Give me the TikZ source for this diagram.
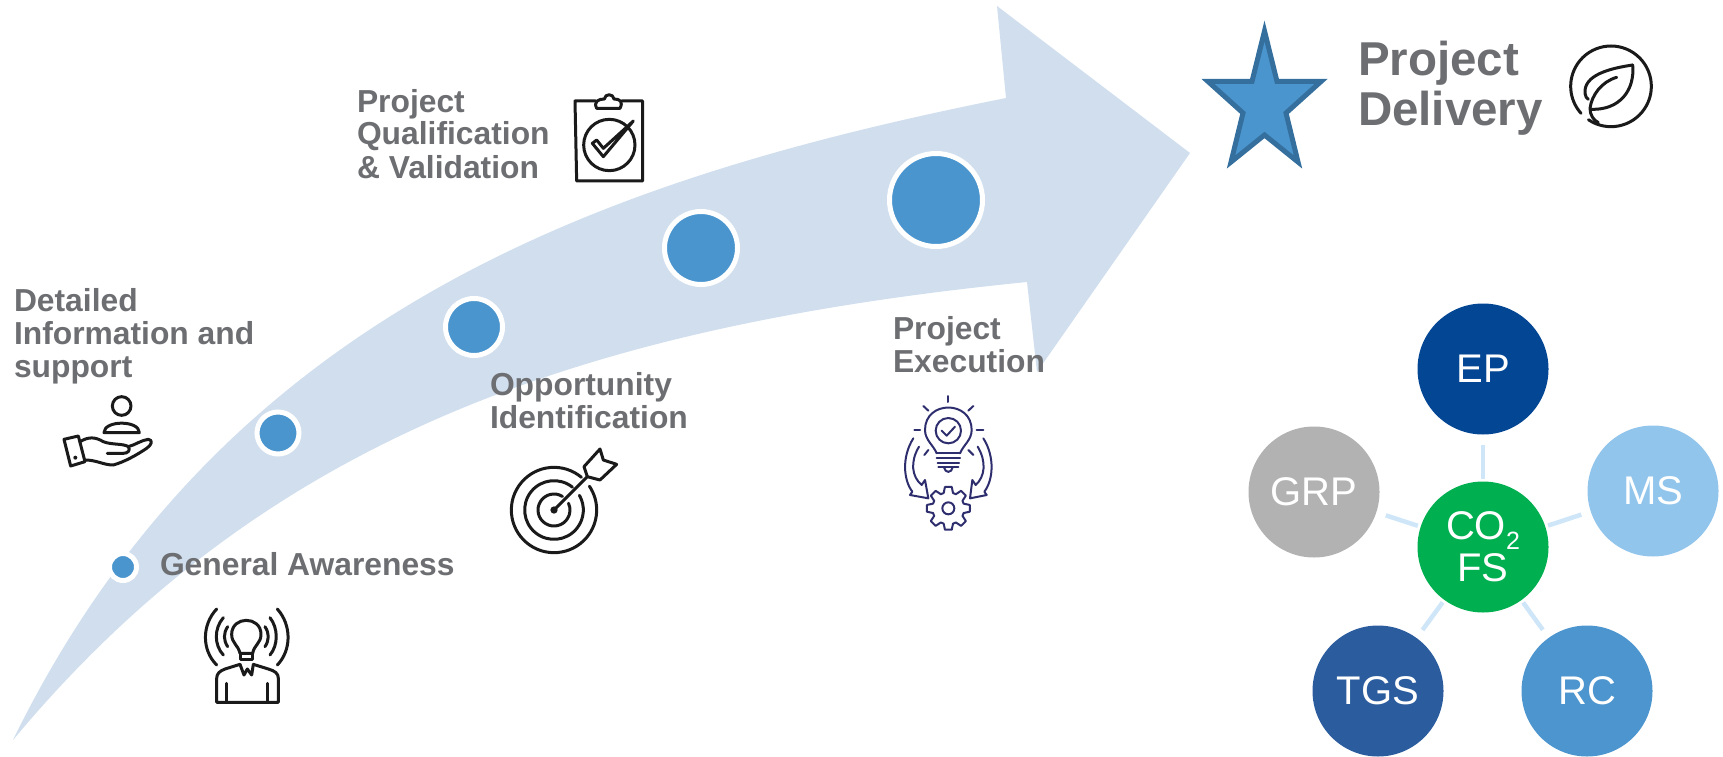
\documentclass[tikz,border=0pt]{standalone}
\usepackage{fontspec}
\setmainfont{Liberation Sans}
\definecolor{arrowc}{HTML}{D0DEEE}
\definecolor{dotc}{HTML}{4A95CE}
\definecolor{starl}{HTML}{356F9E}
\definecolor{labelc}{HTML}{6D6E71}
\definecolor{linkc}{HTML}{CFE6F9}
\definecolor{epc}{HTML}{034694}
\definecolor{grpc}{HTML}{B2B2B2}
\definecolor{coc}{HTML}{00B050}
\definecolor{tgsc}{HTML}{2B5C9E}
\definecolor{rcc}{HTML}{4D95CE}
\definecolor{msc}{HTML}{92C5EC}
\definecolor{navyc}{HTML}{2E2E6E}
\definecolor{iconc}{HTML}{1A1A1A}
\tikzset{
  dot/.style={circle,fill=dotc,draw=white,line width=5pt,inner sep=0pt,outer sep=0pt,minimum size=#1},
  lbl/.style={anchor=base west,align=left,inner sep=0pt,outer sep=0pt,text=labelc,font=\fontsize{31.8}{33}\selectfont\bfseries},
  bigl/.style={anchor=base west,align=left,inner sep=0pt,outer sep=0pt,text=labelc,font=\fontsize{47.5}{50}\selectfont\bfseries},
  disc/.style={circle,inner sep=0pt,outer sep=0pt,minimum size=131pt,text=white,fill=#1,font=\fontsize{40}{42}\selectfont},
  link/.style={draw=linkc,line width=4.5pt,shorten <=3pt,shorten >=10pt},
  iconz/.style 2 args={shift={(#1,#2)},x=0.33333pt,y=-0.33333pt,line cap=round,line join=round},
  ic/.style={draw=iconc,line width=3pt},
  nv/.style={draw=navyc,line width=2pt}
}
\begin{document}
\begin{tikzpicture}[x=1pt,y=-1pt]
\useasboundingbox (0,0) rectangle (1723,757);
% main arrow
\fill[arrowc] (13,740) .. controls (223,310) and (606,178) .. (1006,98)
  -- (997,6) -- (1190,153) -- (1037,372) -- (1027,282)
  .. controls (577,327) and (263,440) .. (13,740) -- cycle;
% dots
\node[dot=22pt+5pt] (d1) at (123,567) {};
\node[dot=37pt+5pt] (d2) at (278,433) {};
\node[dot=52pt+5pt] (d3) at (474,327) {};
\node[dot=68pt+5pt] (d4) at (701,248) {};
\node[dot=88pt+5pt] (d5) at (936,200) {};
% star
\draw[fill=dotc,draw=starl,line width=5pt,miter limit=10] (1264.5,31) -- (1277,81.5) -- (1321,81.5) -- (1286,113) -- (1298,162) -- (1264.5,135) -- (1231,162) -- (1243,113) -- (1208,81.5) -- (1252,81.5) -- cycle;
% labels
\node[lbl] (general) at (160,575) {General Awareness};
\node[lbl] (detailed) at (14,377) {Detailed\\Information and\\support};
\node[lbl] (qual) at (357,178) {Project\\Qualification\\\& Validation};
\node[lbl] (opp) at (490,428) {Opportunity\\Identification};
\node[lbl] (exec) at (893,372) {Project\\Execution};
\node[bigl] (deliv) at (1358,125) {Project\\Delivery};
% discs
\node[disc=epc] (ep) at (1483,369) {EP};
\node[disc=grpc] (grp) at (1314,492) {GRP};
\node[disc=tgsc] (tgs) at (1378,691) {TGS};
\node[disc=rcc] (rc) at (1587,691) {RC};
\node[disc=msc] (ms) at (1653,491) {MS};
\node[disc=coc,align=center] (co) at (1483,547) {CO{\fontsize{25}{25}\selectfont\raisebox{-10pt}{2}}\\FS};
\foreach \t in {ep,grp,tgs,rc,ms} \draw[link] (co) -- (\t);
% icon: bulb person
\begin{scope}[iconz={190}{595}]
\draw[ic] (80,42) .. controls (35,90) and (35,165) .. (80,210);
\draw[ic] (100,68) .. controls (72,100) and (72,150) .. (100,180);
\draw[ic] (113,95) .. controls (100,115) and (100,135) .. (113,155);
\draw[ic] (262,42) .. controls (305,90) and (305,165) .. (262,210);
\draw[ic] (240,68) .. controls (265,100) and (265,150) .. (240,180);
\draw[ic] (225,95) .. controls (238,115) and (238,135) .. (225,155);
\draw[ic] (150,175) .. controls (145,150) and (125,145) .. (125,118) .. controls (125,62) and (213,62) .. (213,118) .. controls (213,145) and (192,150) .. (188,175) -- cycle;
\draw[ic] (150,175) -- (150,192) -- (188,192) -- (188,175);
\draw[ic] (150,208) -- (105,222) .. controls (90,228) and (80,235) .. (80,250) -- (80,322) -- (265,322) -- (265,250) .. controls (265,235) and (255,228) .. (235,222) -- (190,208);
\draw[ic] (150,208) -- (162,240) -- (172,222) -- (185,240) -- (190,208);
\draw[ic] (108,265) -- (108,320);
\draw[ic] (232,265) -- (232,320);
\end{scope}
% icon: hand
\begin{scope}[iconz={0}{340}]
\draw[ic] (365,198) circle[radius=28];
\draw[ic] (312,278) .. controls (312,240) and (418,240) .. (418,278) -- cycle;
\draw[ic] (192,298) -- (235,288) -- (255,365) -- (212,378) -- cycle;
\fill[iconc] (226,353) circle[radius=6];
\draw[ic] (240,305) .. controls (265,290) and (285,290) .. (310,305) .. controls (335,315) and (370,310) .. (385,320) .. controls (405,315) and (425,300) .. (445,298) .. controls (460,300) and (455,315) .. (440,325) .. controls (410,345) and (375,365) .. (340,375) .. controls (310,375) and (290,360) .. (255,360);
\draw[ic] (322,340) -- (370,340) .. controls (385,340) and (392,330) .. (385,320);
\end{scope}
% icon: target
\begin{scope}[iconz={500}{435}]
\draw[ic] (162,225) ++(-50:128) arc[start angle=-50,end angle=-394,radius=128];
\draw[ic] (162,225) ++(-51:88) arc[start angle=-51,end angle=-390,radius=88];
\draw[ic] (162,225) ++(-58:48) arc[start angle=-58,end angle=-385,radius=48];
\fill[iconc] (162,225) circle[radius=11];
\draw[ic] (162,225) -- (262,125);
\draw[ic] (252,95) -- (300,42) -- (310,75) -- (350,88) -- (300,135) -- (262,125) -- cycle;
\end{scope}
% icon: clipboard
\begin{scope}[iconz={565}{85}]
\draw[ic] (92,48) -- (30,48) -- (35,288) -- (233,288) -- (233,48) -- (170,48);
\draw[ic] (95,70) .. controls (85,50) and (100,42) .. (118,42) .. controls (120,25) and (145,25) .. (147,42) .. controls (165,42) and (175,50) .. (165,70) -- cycle;
\draw[ic] (133,180) circle[radius=77];
\draw[ic] (82,175) -- (115,215) -- (205,108) -- (115,190) -- (95,165) -- cycle;
\end{scope}
% icon: execution
\begin{scope}[iconz={895}{390}]
\draw[nv] (160,18) -- (160,36);
\draw[nv] (85,48) -- (100,62);
\draw[nv] (235,48) -- (220,62);
\draw[nv] (58,120) -- (75,120);
\draw[nv] (245,120) -- (265,120);
\draw[nv] (88,195) -- (100,180);
\draw[nv] (235,195) -- (220,180);
\draw[nv] (125,190) .. controls (115,165) and (90,150) .. (90,120) .. controls (90,30) and (230,30) .. (230,120) .. controls (230,150) and (205,165) .. (195,190);
\draw[nv] (160,122) circle[radius=38];
\draw[nv] (140,122) -- (155,137) -- (180,110);
\draw[nv] (125,190) -- (195,190);
\draw[nv] (125,205) -- (195,205);
\draw[nv] (128,220) -- (192,220);
\draw[nv] (130,232) -- (190,232);
\draw[nv] (147,232) .. controls (150,250) and (170,250) .. (173,232);
\draw[nv] (55,145) .. controls (20,200) and (25,270) .. (52,305) -- (45,315) -- (100,325) -- (90,270) -- (80,285) .. controls (50,260) and (45,215) .. (72,170);
\draw[nv] (265,145) .. controls (300,200) and (295,270) .. (268,305) -- (275,315) -- (225,325) -- (232,270) -- (242,285) .. controls (270,260) and (275,215) .. (248,170);
\begin{scope}[shift={(160,355)}]
\draw[nv] (0:65) \foreach \a in {0,45,...,315} { -- ({\a+9}:65) -- ({\a+17}:48) -- ({\a+28}:48) -- ({\a+36}:65)} -- cycle;
\draw[nv] (0,0) circle[radius=18];
\end{scope}
\end{scope}
% icon: leaf
\begin{scope}[iconz={1560}{40}]
\draw[ic] (153,139) ++(124:121) arc[start angle=124,end angle=-222,radius=121];
\draw[ic] (218,75) .. controls (150,85) and (70,105) .. (75,160) .. controls (76,170) and (80,175) .. (85,178);
\draw[ic] (218,75) .. controls (225,150) and (180,210) .. (95,208);
\draw[ic] (170,112) .. controls (125,125) and (95,165) .. (90,205) .. controls (90,225) and (100,240) .. (115,248);
\end{scope}
\end{tikzpicture}
\end{document}
